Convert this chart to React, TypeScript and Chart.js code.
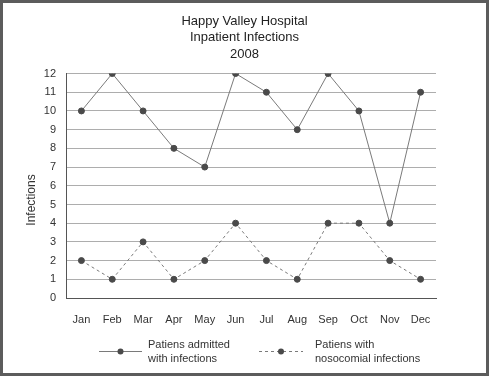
import React, { useEffect, useRef } from "react";
import { Chart, registerables } from "chart.js";

Chart.register(...registerables);

const months = ["Jan", "Feb", "Mar", "Apr", "May", "Jun", "Jul", "Aug", "Sep", "Oct", "Nov", "Dec"];
const admitted = [10, 12, 10, 8, 7, 12, 11, 9, 12, 10, 4, 11];
const nosocomial = [2, 1, 3, 1, 2, 4, 2, 1, 4, 4, 2, 1];
const titleLines = ["Happy Valley Hospital", "Inpatient Infections", "2008"];
const seriesLabels = ["Patiens admitted\nwith infections", "Patiens with\nnosocomial infections"];
const yAxisTitle = "Infections";
const yMin = 0;
const yMax = 12;
const yStep = 1;

const FONT = "'Liberation Sans', Arial, sans-serif";

const bottomLegend = {
  id: "bottomLegend",
  afterDraw(chart: any) {
    const ctx = chart.ctx;
    const slots = [
      { x1: 96, x2: 139, tx: 145 },
      { x1: 256, x2: 300, tx: 312 },
    ];
    chart.data.datasets.forEach((ds: any, i: number) => {
      const s = slots[i];
      if (!s) return;
      const ly = 348;
      ctx.save();
      ctx.strokeStyle = ds.borderColor;
      ctx.lineWidth = 1;
      ctx.setLineDash(ds.borderDash || []);
      ctx.beginPath();
      ctx.moveTo(s.x1, ly + 0.5);
      ctx.lineTo(s.x2, ly + 0.5);
      ctx.stroke();
      ctx.setLineDash([]);
      ctx.fillStyle = ds.pointBackgroundColor;
      ctx.beginPath();
      ctx.arc((s.x1 + s.x2) / 2, ly + 0.5, 3, 0, Math.PI * 2);
      ctx.fill();
      ctx.fillStyle = "#333";
      ctx.font = `11px ${FONT}`;
      ctx.textBaseline = "middle";
      ctx.textAlign = "left";
      String(ds.label)
        .split("\n")
        .forEach((line: string, j: number) => {
          ctx.fillText(line, s.tx, 342 + j * 14);
        });
      ctx.restore();
    });
  },
};

const yTitlePlugin = {
  id: "yTitle",
  afterDraw(chart: any) {
    const ctx = chart.ctx;
    ctx.save();
    ctx.translate(29, 197);
    ctx.rotate(-Math.PI / 2);
    ctx.fillStyle = "#333";
    ctx.font = `12px ${FONT}`;
    ctx.textAlign = "center";
    ctx.textBaseline = "middle";
    ctx.fillText(yAxisTitle, 0, 0);
    ctx.restore();
  },
};

export default function App() {
  const ref = useRef<HTMLCanvasElement | null>(null);

  useEffect(() => {
    if (!ref.current) return;
    const chart = new Chart(ref.current, {
      type: "line",
      data: {
        labels: months,
        datasets: [
          {
            label: seriesLabels[0],
            data: admitted,
            borderColor: "#7a7a7a",
            borderWidth: 1,
            pointBackgroundColor: "#4a4a4a",
            pointBorderColor: "#4a4a4a",
            pointRadius: 3,
            tension: 0,
          },
          {
            label: seriesLabels[1],
            data: nosocomial,
            borderColor: "#7a7a7a",
            borderWidth: 1,
            borderDash: [3, 3],
            pointBackgroundColor: "#4a4a4a",
            pointBorderColor: "#4a4a4a",
            pointRadius: 3,
            tension: 0,
          },
        ],
      },
      options: {
        animation: false,
        responsive: false,
        maintainAspectRatio: false,
        layout: { padding: 0 },
        plugins: {
          legend: { display: false },
          tooltip: { enabled: false },
          title: {
            display: true,
            text: titleLines,
            color: "#222",
            font: { family: FONT, size: 13, weight: "normal", lineHeight: 1.27 },
            padding: { top: 10, bottom: 11 },
          },
        },
        scales: {
          x: {
            offset: true,
            grid: { display: false, drawTicks: false },
            border: { display: true, color: "#555", width: 1 },
            ticks: { color: "#333", font: { family: FONT, size: 11 }, padding: 15, maxRotation: 0 },
            afterFit: (s: any) => {
              s.height = 75;
            },
          },
          y: {
            min: yMin,
            max: yMax,
            ticks: { stepSize: yStep, color: "#333", font: { family: FONT, size: 11 }, padding: 10 },
            grid: {
              drawTicks: false,
              color: (c: any) => (c.tick && c.tick.value === 0 ? "rgba(0,0,0,0)" : "#adadad"),
            },
            border: { display: true, color: "#555", width: 1 },
            title: { display: false, text: yAxisTitle },
            afterFit: (s: any) => {
              s.width = 63;
            },
          },
          spacer: {
            type: "linear",
            position: "right",
            display: true,
            grid: { display: false, drawTicks: false },
            border: { display: false },
            ticks: { display: false },
            afterFit: (s: any) => {
              s.width = 50;
            },
          },
        },
      },
      plugins: [bottomLegend, yTitlePlugin],
    });
    return () => chart.destroy();
  }, []);

  return (
    <div
      style={{
        position: "absolute",
        left: 0,
        top: 0,
        width: 489,
        height: 376,
        boxSizing: "border-box",
        border: "3px solid #5c5c5c",
        background: "#fff",
      }}
    >
      <canvas ref={ref} width={483} height={370} style={{ display: "block", width: 483, height: 370 }} />
    </div>
  );
}
